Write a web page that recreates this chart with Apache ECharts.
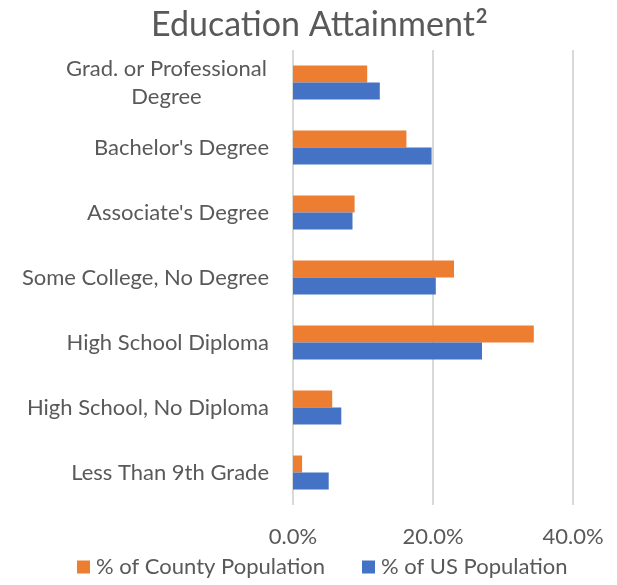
<!DOCTYPE html>
<html>
<head>
<meta charset="utf-8">
<script src="https://cdn.jsdelivr.net/npm/echarts@6/dist/echarts.min.js"></script>
<style>html,body{margin:0;padding:0;background:#fff}#c{width:617px;height:585px}</style>
</head>
<body>
<div id="c"></div>
<script>
const categories = ["Grad. or Professional\nDegree", "Bachelor's Degree", "Associate's Degree", "Some College, No Degree", "High School Diploma", "High School, No Diploma", "Less Than 9th Grade"];
const countyValues = [10.6, 16.2, 8.8, 23.0, 34.4, 5.6, 1.3];
const usValues = [12.4, 19.8, 8.5, 20.4, 27.0, 6.9, 5.1];
const xTicks = [0, 20, 40];

const FONT = 'Lato';
const chart = echarts.init(document.getElementById('c'), null, {renderer: 'canvas'});
chart.setOption({
  animation: false,
  backgroundColor: '#ffffff',
  title: {
    text: '{t|Education Attainment}{s|2}',
    left: 146,
    top: 2,
    textStyle: {
      rich: {
        t: {fontFamily: FONT, fontSize: 34, color: '#595959', fontWeight: 'normal'},
        s: {fontFamily: FONT, fontSize: 20, color: '#595959', verticalAlign: 'top', padding: [0, 0, 16, 1]}
      }
    }
  },
  legend: {
    data: ['% of County Population', '% of US Population'],
    bottom: 2,
    left: 72,
    itemWidth: 13,
    itemHeight: 13,
    itemGap: 37,
    icon: 'rect',
    textStyle: {fontFamily: FONT, fontSize: 22, color: '#595959', padding: [0, 0, 0, 1]}
  },
  grid: {left: 293, right: 44, top: 50, bottom: 80, containLabel: false},
  xAxis: {
    type: 'value',
    min: xTicks[0],
    max: xTicks[xTicks.length - 1],
    interval: xTicks[1] - xTicks[0],
    axisLine: {show: false},
    axisTick: {show: false},
    splitLine: {show: true, lineStyle: {color: '#D9D9D9', width: 2}},
    axisLabel: {
      fontFamily: FONT, fontSize: 22, color: '#595959', margin: 21,
      formatter: v => v.toFixed(1) + '%'
    }
  },
  yAxis: {
    type: 'category',
    inverse: true,
    data: categories,
    axisLine: {show: false},
    axisTick: {show: false},
    axisLabel: {
      fontFamily: FONT, fontSize: 22, color: '#595959', margin: 24, lineHeight: 28,
      formatter: function (v) {
        if (v.indexOf('\n') >= 0) {
          return v.split('\n').map(s => '{c|' + s + '}').join('\n');
        }
        return v;
      },
      rich: {c: {fontFamily: FONT, fontSize: 22, color: '#595959', width: 205, align: 'center', lineHeight: 28}}
    }
  },
  series: [
    {name: '% of County Population', type: 'bar', data: countyValues, barGap: '0%', barCategoryGap: '47.7%',
     itemStyle: {color: '#ED7D31'}},
    {name: '% of US Population', type: 'bar', data: usValues, barGap: '0%', barCategoryGap: '47.7%',
     itemStyle: {color: '#4472C4'}}
  ]
});
</script>
</body>
</html>
